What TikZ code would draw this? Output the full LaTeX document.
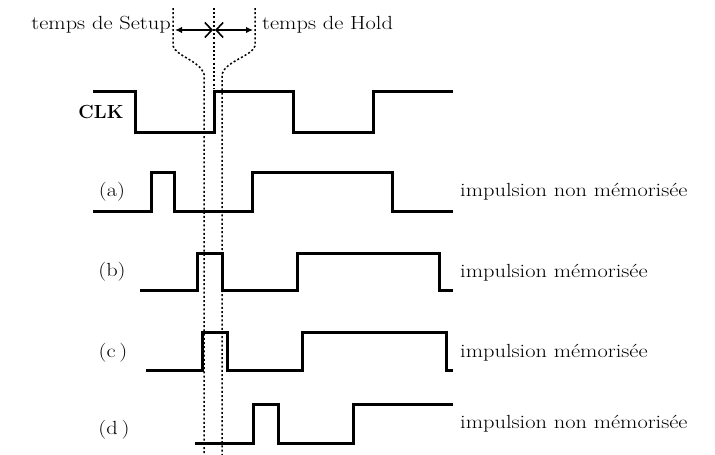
\documentclass[tikz,border=0pt]{standalone}
\usetikzlibrary{arrows.meta}
\tikzset{
  wave/.style={line width=3pt, line join=miter, line cap=butt},
  guide/.style={line width=1.5pt, dash pattern=on 2pt off 2.2pt},
  lbl/.style={font=\fontsize{19}{22}\selectfont, inner sep=0pt},
  dimarrow/.style={line width=2.2pt},
}
\newcommand{\wideText}[1]{\scalebox{1.18}[1]{#1}}
\begin{document}
\begin{tikzpicture}[x=1pt,y=-1pt]
\fill[white] (0,0) rectangle (715,455);
\path[use as bounding box] (0,0) rectangle (715,455);

% guide lines (setup / hold window)
\draw[guide] (173,8) -- (173,46) .. controls (176,56) and (200,61) .. (204,74) -- (204,455);
\draw[guide] (255,8) -- (255,46) .. controls (252,56) and (226,61) .. (222,74) -- (222,455);
\draw[guide] (214,8) -- (214,88);

% dimension arrows
\coordinate (sL) at (175,30);
\coordinate (mL) at (213,30);
\coordinate (mR) at (215,30);
\coordinate (hR) at (253,30);
\draw[dimarrow, {Latex[length=7pt,width=6.5pt]}-{Straight Barb[length=7pt,width=15pt,line width=1.6pt]}] (sL) -- (mL);
\draw[dimarrow, {Straight Barb[length=7pt,width=15pt,line width=1.6pt]}-{Latex[length=7pt,width=6.5pt]}] (mR) -- (hR);

\node[lbl, anchor=base east] (setup) at (171,29) {\wideText{temps de Setup}};
\node[lbl, anchor=base west] (hold) at (262,29) {\wideText{temps de Hold}};

% CLK
\node[lbl, font=\fontsize{19}{22}\selectfont\bfseries] (clk) at (101,112) {CLK};
\draw[wave] (93,91) -- (135,91) -- (135,132) -- (214,132) -- (214,91) -- (293,91) -- (293,132) -- (373,132) -- (373,91) -- (453,91);

% (a)
\node[lbl] (la) at (112,192) {\wideText{(a)}};
\draw[wave] (93,211) -- (151,211) -- (151,172) -- (174,172) -- (174,211) -- (252,211) -- (252,172) -- (392,172) -- (392,211) -- (453,211);
\node[lbl, anchor=base west] (ta) at (460,196) {\wideText{impulsion non mémorisée}};

% (b)
\node[lbl] (lb) at (112,272) {\wideText{(b)}};
\draw[wave] (140,290) -- (197,290) -- (197,253) -- (222,253) -- (222,290) -- (297,290) -- (297,253) -- (439,253) -- (439,290) -- (453,290);
\node[lbl, anchor=base west] (tb) at (460,277) {\wideText{impulsion mémorisée}};

% (c)
\node[lbl] (lc) at (113,353) {\wideText{(c\,)}};
\draw[wave] (146,370) -- (202,370) -- (202,332) -- (227,332) -- (227,370) -- (302,370) -- (302,332) -- (446,332) -- (446,370) -- (453,370);
\node[lbl, anchor=base west] (tc) at (460,357) {\wideText{impulsion mémorisée}};

% (d)
\node[lbl] (ld) at (114,430) {\wideText{(d\,)}};
\draw[wave] (195,443) -- (253,443) -- (253,404) -- (278,404) -- (278,443) -- (353,443) -- (353,404) -- (453,404);
\node[lbl, anchor=base west] (td) at (460,428) {\wideText{impulsion non mémorisée}};
\end{tikzpicture}
\end{document}
